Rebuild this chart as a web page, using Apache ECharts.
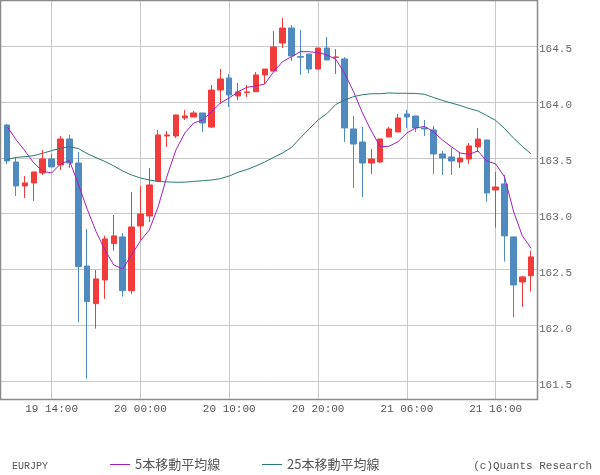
<!DOCTYPE html>
<html>
<head>
<meta charset="utf-8">
<script src="https://cdn.jsdelivr.net/npm/echarts@6/dist/echarts.min.js"></script>
<style>html,body{margin:0;padding:0;background:#fff}#c{width:600px;height:475px}</style>
</head>
<body>
<div id="c"></div>
<script>
var categories = [
 '19 09:00','19 10:00','19 11:00','19 12:00','19 13:00','19 14:00','19 15:00','19 16:00','19 17:00','19 18:00',
 '19 19:00','19 20:00','19 21:00','19 22:00','19 23:00','20 00:00','20 01:00','20 02:00','20 03:00','20 04:00',
 '20 05:00','20 06:00','20 07:00','20 08:00','20 09:00','20 10:00','20 11:00','20 12:00','20 13:00','20 14:00',
 '20 15:00','20 16:00','20 17:00','20 18:00','20 19:00','20 20:00','20 21:00','20 22:00','20 23:00','21 00:00',
 '21 01:00','21 02:00','21 03:00','21 04:00','21 05:00','21 06:00','21 07:00','21 08:00','21 09:00','21 10:00',
 '21 11:00','21 12:00','21 13:00','21 14:00','21 15:00','21 16:00','21 17:00','21 18:00','21 19:00','21 20:00'
];
var labelCats = ['19 14:00','20 00:00','20 10:00','20 20:00','21 06:00','21 16:00'];
var openVals = [163.793,163.462,163.248,163.275,163.364,163.489,163.436,163.668,163.453,162.532,
 162.195,162.407,162.732,162.792,162.311,162.890,162.979,163.292,163.695,163.695,
 163.856,163.865,163.901,163.775,164.106,164.214,164.053,164.084,164.091,164.241,
 164.276,164.527,164.661,164.405,164.428,164.294,164.482,164.398,164.384,163.758,
 163.641,163.453,163.462,163.686,163.731,163.892,163.874,163.767,163.749,163.534,
 163.507,163.462,163.489,163.597,163.659,163.212,163.266,162.792,162.389,162.445];
var closeVals = [163.471,163.248,163.275,163.373,163.489,163.418,163.668,163.453,162.526,162.213,
 162.416,162.774,162.801,162.311,162.881,162.997,163.257,163.704,163.704,163.883,
 163.874,163.901,163.811,164.106,164.205,164.062,164.089,164.089,164.241,164.294,
 164.491,164.661,164.411,164.400,164.294,164.482,164.375,164.402,163.767,163.623,
 163.453,163.489,163.668,163.758,163.856,163.865,163.767,163.758,163.534,163.498,
 163.471,163.498,163.606,163.668,163.185,163.239,162.801,162.362,162.434,162.613];
var lowVals = [163.442,163.158,163.140,163.114,163.346,163.418,163.391,163.409,162.031,161.524,
 161.971,162.237,162.669,162.258,162.282,162.765,162.926,163.292,163.597,163.677,
 163.838,163.865,163.731,163.767,163.981,163.954,164.017,164.044,164.091,164.160,
 164.276,164.482,164.366,164.241,164.258,164.294,164.375,164.250,163.641,163.230,
 163.149,163.355,163.453,163.686,163.731,163.767,163.731,163.695,163.355,163.346,
 163.346,163.409,163.445,163.552,163.107,162.875,162.571,162.073,162.168,162.302];
var highVals = [163.802,163.504,163.337,163.373,163.570,163.534,163.695,163.704,163.552,162.863,
 162.496,162.803,162.988,162.827,163.194,163.248,163.409,163.749,163.740,163.883,
 163.928,163.919,163.901,164.151,164.294,164.250,164.169,164.151,164.267,164.294,
 164.634,164.750,164.688,164.643,164.428,164.482,164.581,164.473,164.402,163.874,
 163.776,163.579,163.668,163.776,163.892,163.928,163.874,163.838,163.784,163.561,
 163.588,163.552,163.632,163.767,163.659,163.373,163.346,162.792,162.443,162.669];
var ma5Vals = [163.778,163.662,163.561,163.453,163.379,163.364,163.445,163.476,163.266,163.042,
 162.841,162.675,162.541,162.505,162.631,162.756,162.854,163.063,163.337,163.570,
 163.722,163.811,163.838,163.912,163.990,164.035,164.091,164.131,164.142,164.160,
 164.270,164.360,164.404,164.449,164.449,164.440,164.420,164.381,164.256,164.091,
 163.901,163.740,163.599,163.603,163.644,163.722,163.767,163.780,163.733,163.659,
 163.599,163.543,163.530,163.561,163.471,163.445,163.328,163.024,162.801,162.690];
var ma25Vals = [163.485,163.503,163.510,163.519,163.540,163.564,163.585,163.599,163.583,163.537,
 163.501,163.467,163.427,163.382,163.346,163.319,163.301,163.288,163.284,163.281,
 163.282,163.288,163.295,163.301,163.313,163.337,163.370,163.395,163.427,163.462,
 163.503,163.543,163.592,163.677,163.758,163.838,163.896,163.977,164.017,164.047,
 164.064,164.073,164.073,164.080,164.077,164.077,164.075,164.068,164.039,164.013,
 163.990,163.968,163.941,163.919,163.878,163.834,163.762,163.677,163.601,163.534];
var yTicks = [161.5, 162.0, 162.5, 163.0, 163.5, 164.0, 164.5];

var ohlc = openVals.map(function (o, i) { return [o, closeVals[i], lowVals[i], highVals[i]]; });
var showAt = function (i) { return labelCats.indexOf(categories[i]) >= 0; };
var mono = '"Liberation Mono", "DejaVu Sans Mono", monospace';

var chart = echarts.init(document.getElementById('c'), null, {renderer: 'canvas'});
chart.setOption({
  animation: false,
  backgroundColor: '#fff',
  grid: [
    {left: 7.2, top: 0, width: 524, height: 399, show: false},
    {left: 0, top: 46, width: 537, height: 335.3, show: false}
  ],
  xAxis: [
    {
      type: 'category', gridIndex: 0, data: categories, boundaryGap: false,
      axisLine: {show: false}, axisTick: {show: false},
      splitLine: {show: true, interval: function (i) { return showAt(i); }, lineStyle: {color: '#c8c8c8', width: 1}},
      axisLabel: {interval: function (i) { return showAt(i); }, margin: 5, color: '#555',
        fontFamily: mono, fontSize: 11, hideOverlap: false}
    },
    {type: 'value', gridIndex: 1, show: false, min: 0, max: 1}
  ],
  yAxis: [
    {type: 'value', gridIndex: 0, min: 161.3416, max: 164.9116, show: false, scale: true},
    {
      type: 'value', gridIndex: 1, position: 'right',
      min: yTicks[0], max: yTicks[yTicks.length - 1], interval: 0.5,
      axisLine: {show: false}, axisTick: {show: false},
      splitLine: {show: true, lineStyle: {color: '#c8c8c8', width: 1}},
      axisLabel: {margin: 2, color: '#666', fontFamily: mono, fontSize: 11, verticalAlign: 'top', lineHeight: 11, padding: [-2, 0, 0, 0],
        formatter: function (v) { return v.toFixed(1); }}
    }
  ],
  legend: [
    {data: ['5本移動平均線'], left: 110, top: 458, padding: 0, icon: 'rect', itemWidth: 20, itemHeight: 1,
      textStyle: {fontSize: 13, fontFamily: '"Noto Sans CJK JP"', color: '#555'}},
    {data: ['25本移動平均線'], left: 262, top: 458, padding: 0, icon: 'rect', itemWidth: 20, itemHeight: 1,
      textStyle: {fontSize: 13, fontFamily: '"Noto Sans CJK JP"', color: '#555'}}
  ],
  graphic: [
    {type: 'rect', z: 100, silent: true, shape: {x: 0.5, y: 0.5, width: 537, height: 399},
      style: {fill: null, stroke: '#8a8a8a', lineWidth: 1.5}},
    {type: 'text', x: 12, y: 466, style: {text: 'EURJPY', fill: '#555', font: '10px ' + mono, verticalAlign: 'middle'}},
    {type: 'text', x: 592, y: 466, style: {text: '(c)Quants Research', fill: '#555', font: '11px ' + mono, align: 'right', verticalAlign: 'middle'}}
  ],
  series: [
    {
      name: 'EURJPY', type: 'candlestick', xAxisIndex: 0, yAxisIndex: 0, data: ohlc,
      barWidth: 6, clip: false,
      itemStyle: {color: '#f23b3b', color0: '#4f8bc0', borderColor: '#f23b3b', borderColor0: '#4f8bc0', borderWidth: 1},
      emphasis: {disabled: true}
    },
    {
      name: '5本移動平均線', type: 'line', xAxisIndex: 0, yAxisIndex: 0, data: ma5Vals,
      symbol: 'none', clip: false, lineStyle: {color: '#a020c0', width: 1}, itemStyle: {color: '#a020c0'}
    },
    {
      name: '25本移動平均線', type: 'line', xAxisIndex: 0, yAxisIndex: 0, data: ma25Vals,
      symbol: 'none', clip: false, lineStyle: {color: '#2a7a70', width: 1}, itemStyle: {color: '#2a7a70'}
    }
  ]
});
</script>
</body>
</html>
